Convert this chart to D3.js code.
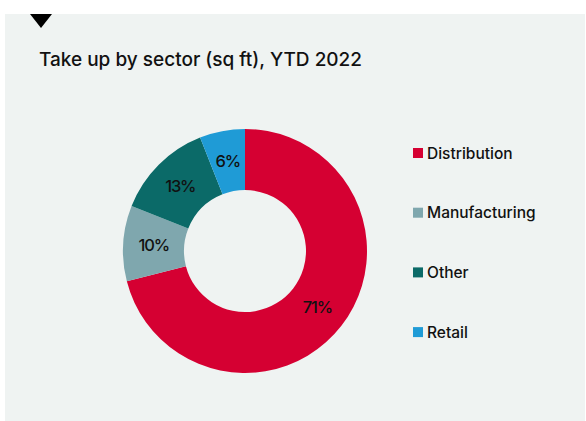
<!DOCTYPE html>
<html>
<head>
<meta charset="utf-8">
<script src="https://cdn.jsdelivr.net/npm/d3@7"></script>
<style>
  html, body { margin: 0; padding: 0; background: #ffffff; }
  svg { display: block; }
  text { font-family: Inter, "Noto Sans", sans-serif; }
</style>
</head>
<body>
<div id="chart"></div>
<script>
// Take-up share by sector, year to date 2022
const sectors = ["Distribution", "Manufacturing", "Other", "Retail"];
const shares = [71, 10, 13, 6];
const sectorColors = ["#d50032", "#7fa7ae", "#0b6a68", "#1f9bd6"];
const chartTitle = "Take up by sector (sq ft), YTD 2022";

const width = 586, height = 421;
const svg = d3.select("#chart").append("svg")
  .attr("width", width).attr("height", height);

// panel background
svg.append("rect")
  .attr("x", 5).attr("y", 14)
  .attr("width", 580).attr("height", height - 14)
  .attr("fill", "#eff3f2");

// marker triangle at top-left
svg.append("path")
  .attr("d", d3.line()([[30, 14], [52, 14], [41, 28]]) + "Z")
  .attr("fill", "#000");

const title = svg.append("text")
  .attr("x", 39).attr("y", 66)
  .attr("font-size", 19)
  .attr("font-weight", 500)
  .attr("fill", "#111")
  .text(chartTitle);
// stretch the title to its full set width
title.attr("textLength", 323).attr("lengthAdjust", "spacingAndGlyphs");

const data = sectors.map((s, i) => ({ sector: s, value: shares[i] }));
const color = d3.scaleOrdinal().domain(sectors).range(sectorColors);

const pie = d3.pie().value(d => d.value).sort(null);
const outerR = 122, innerR = 61;
const arc = d3.arc().innerRadius(innerR).outerRadius(outerR);

const g = svg.append("g").attr("transform", "translate(245,251)");
const arcs = pie(data);

g.selectAll("path.slice")
  .data(arcs)
  .join("path")
  .attr("class", "slice")
  .attr("d", arc)
  .attr("fill", d => color(d.data.sector));

g.selectAll("text.pct")
  .data(arcs)
  .join("text")
  .attr("class", "pct")
  .attr("transform", d => `translate(${arc.centroid(d)})`)
  .attr("text-anchor", "middle")
  .attr("dy", "0.36em")
  .attr("font-size", 16.5)
  .attr("font-weight", 500)
  .attr("letter-spacing", "-0.07em")
  .attr("fill", "#111")
  .text(d => d.data.value + "%");

// legend
const legend = svg.append("g").attr("transform", "translate(413,153)");
const item = legend.selectAll("g.item")
  .data(sectors)
  .join("g")
  .attr("class", "item")
  .attr("transform", (d, i) => `translate(0,${i * 59.7})`);

item.append("rect")
  .attr("x", 0).attr("y", -5)
  .attr("width", 10).attr("height", 10)
  .attr("fill", d => color(d));

item.append("text")
  .attr("x", 14).attr("y", 0)
  .attr("dy", "0.36em")
  .attr("font-size", 15.5)
  .attr("font-weight", 500)
  .attr("fill", "#111")
  .text(d => d);
</script>
</body>
</html>
